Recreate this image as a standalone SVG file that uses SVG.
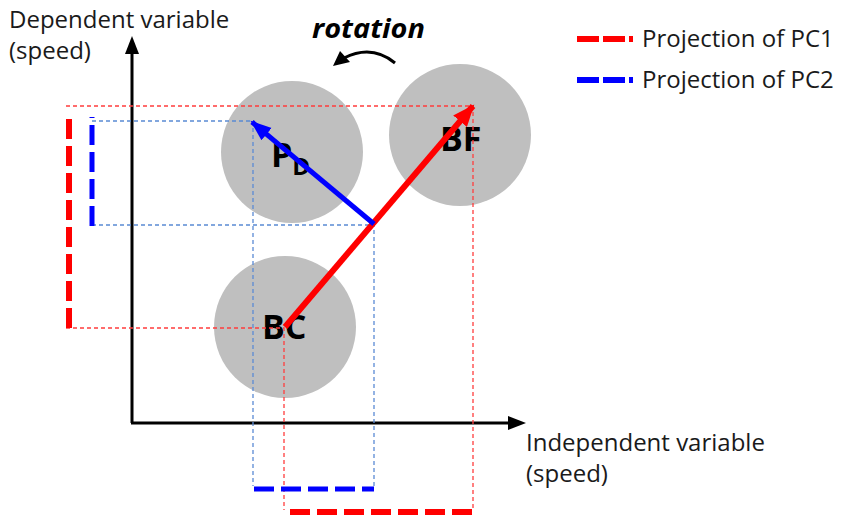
<svg xmlns="http://www.w3.org/2000/svg" width="849" height="518" viewBox="0 0 849 518">
<style>
.lbl{font-family:"Open Sans","Noto Sans",sans-serif;font-size:24px;fill:#1a1a1a}
.node{font-family:"Open Sans","Noto Sans",sans-serif;font-weight:bold;fill:#000}
.circ{fill:#bfbfbf}
.thinR{fill:none;stroke:#ff3d3d;stroke-width:1.3;stroke-dasharray:4 3}
.thinB{fill:none;stroke:#5a8ad4;stroke-width:1.3;stroke-dasharray:4 3}
.thickR{fill:none;stroke:#ff0000;stroke-width:6;stroke-dasharray:20 7}
.thickB{fill:none;stroke:#0000ff;stroke-width:5;stroke-dasharray:20 7}
.axis{stroke:#000;stroke-width:3;fill:none}
</style>
<defs>
<marker id="ahR" markerUnits="userSpaceOnUse" markerWidth="24" markerHeight="20" refX="20" refY="10" orient="auto" viewBox="0 0 24 20">
<path d="M0,1 L22,10 L0,19 Z" fill="#ff0000"/>
</marker>
<marker id="ahB" markerUnits="userSpaceOnUse" markerWidth="22" markerHeight="18" refX="19" refY="9" orient="auto" viewBox="0 0 22 18">
<path d="M0,1 L21,9 L0,17 Z" fill="#0000ff"/>
</marker>
</defs>

<g id="axes">
<line class="axis" x1="132" y1="423" x2="132" y2="50"/>
<polygon points="132,36 125,54 139,54" fill="#000"/>
<line class="axis" x1="131" y1="423" x2="510" y2="423"/>
<polygon points="526,423 508,416 508,430" fill="#000"/>
<text class="lbl" x="9" y="28">Dependent variable</text>
<text class="lbl" x="9" y="59">(speed)</text>
<text class="lbl" x="526" y="451">Independent variable</text>
<text class="lbl" x="526" y="482">(speed)</text>
</g>

<g id="node-PD">
<circle class="circ" cx="292" cy="152" r="71"/>
<text class="node" x="271" y="167" font-size="34">P<tspan font-size="24" dy="8">D</tspan></text>
</g>
<g id="node-BF">
<circle class="circ" cx="460" cy="135" r="71"/>
<text class="node" x="440" y="151" font-size="34">BF</text>
</g>
<g id="node-BC">
<circle class="circ" cx="285" cy="327" r="71"/>
<text class="node" x="262" y="339" font-size="34">BC</text>
</g>

<g id="connectors">
<path class="thinR" d="M66,106 H473 V510"/>
<path class="thinR" d="M66,328 H284 V510"/>
<path class="thinB" d="M92,121 H253 V486"/>
<path class="thinB" d="M92,225 H374 V486"/>
<path class="thickR" d="M69,328 V112"/>
<path class="thickR" d="M290,512 H473"/>
<path class="thickB" d="M92,226 V117"/>
<path class="thickB" d="M254,489 H374"/>
<line x1="285" y1="327" x2="473" y2="106" stroke="#ff0000" stroke-width="6" marker-end="url(#ahR)"/>
<line x1="374" y1="224" x2="252" y2="122" stroke="#0000ff" stroke-width="5" marker-end="url(#ahB)"/>
</g>

<g id="rotation">
<text x="312" y="38" font-family="Open Sans, Noto Sans, sans-serif" font-size="27" font-weight="bold" font-style="italic" fill="#000" textLength="113" lengthAdjust="spacingAndGlyphs">rotation</text>
<path d="M395,63 Q372,44 344,58" fill="none" stroke="#000" stroke-width="3"/>
<polygon points="333,66 340,51 350,62" fill="#000"/>
</g>

<g id="legend">
<path d="M577,39 H633" stroke="#ff0000" stroke-width="6" stroke-dasharray="22 4" fill="none"/>
<text class="lbl" x="642" y="47">Projection of PC1</text>
<path d="M577,80 H633" stroke="#0000ff" stroke-width="6" stroke-dasharray="22 4" fill="none"/>
<text class="lbl" x="642" y="88">Projection of PC2</text>
</g>
</svg>
